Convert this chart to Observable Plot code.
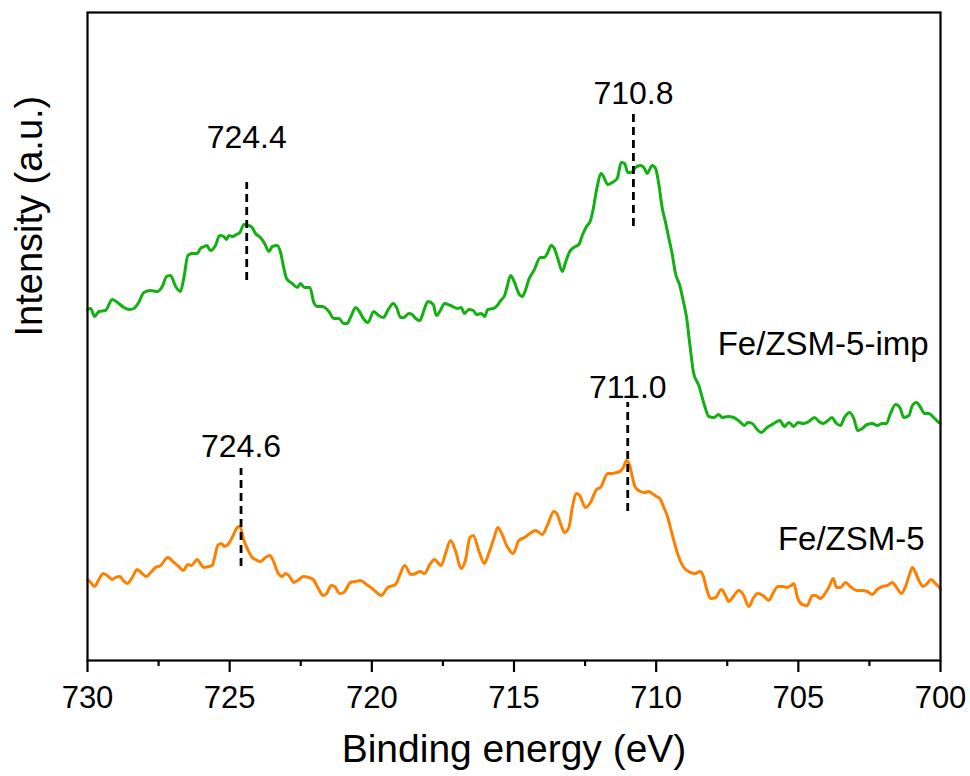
<!DOCTYPE html>
<html><head><meta charset="utf-8">
<script src="https://cdn.jsdelivr.net/npm/d3@7"></script>
<script src="https://cdn.jsdelivr.net/npm/@observablehq/plot@0.6"></script>
<style>html,body{margin:0;padding:0;background:#fff;} svg{display:block}</style>
</head><body><div id="chart"></div>
<script>
// Fe/ZSM-5-imp (green) — binding energy (eV) and intensity (a.u.)
const greenE = [
730.00,729.89,729.75,729.60,729.37,729.13,728.90,728.72,728.51,728.37,
728.20,728.02,727.78,727.55,727.37,727.22,727.08,726.90,726.73,726.61,
726.47,726.32,726.14,726.03,725.89,725.81,725.67,725.50,725.35,725.21,
725.11,725.03,724.91,724.76,724.64,724.50,724.33,724.21,724.09,723.92,
723.77,723.62,723.50,723.33,723.21,723.10,723.00,722.80,722.62,722.51,
722.37,722.18,722.04,721.92,721.75,721.51,721.34,721.16,720.99,720.87,
720.75,720.57,720.46,720.30,720.14,719.93,719.76,719.60,719.40,719.25,
719.13,718.99,718.88,718.70,718.58,718.46,718.31,718.17,718.03,717.84,
717.73,717.59,717.44,717.23,716.98,716.86,716.74,716.59,716.43,716.32,
716.15,716.04,715.92,715.73,715.59,715.47,715.33,715.24,715.12,714.98,
714.83,714.71,714.60,714.48,714.30,714.07,713.93,713.83,713.69,713.58,
713.46,713.30,713.19,713.04,712.90,712.72,712.60,712.45,712.31,712.21,
712.10,711.93,711.84,711.70,711.55,711.37,711.23,711.11,711.00,710.88,
710.73,710.55,710.41,710.32,710.14,710.02,709.91,709.79,709.67,709.56,
709.44,709.32,709.17,709.05,708.93,708.82,708.68,708.50,708.32,708.15,
707.97,707.80,707.68,707.48,707.27,707.03,706.89,706.78,706.62,706.45,
706.31,706.10,705.86,705.65,705.49,705.33,705.16,705.02,704.81,704.63,
704.43,704.28,704.13,703.96,703.81,703.69,703.52,703.38,703.19,703.05,
702.91,702.75,702.58,702.40,702.23,702.05,701.90,701.76,701.58,701.43,
701.29,701.11,700.99,700.84,700.70,700.56,700.41,700.24,700.06,700.00];
const greenI = [
351,352,344,349,350,361,357,353,351,352,
358,368,370,369,374,384,385,374,369,383,
405,407,407,412,414,415,410,415,425,424,
421,425,424,426,428,436,435,433,427,423,
417,409,414,415,408,393,382,377,373,377,
373,373,358,354,354,349,342,342,337,337,
343,353,350,342,338,349,345,343,352,357,
353,343,343,347,346,342,340,350,359,356,
345,350,357,355,352,353,347,351,350,346,
347,344,351,352,355,360,365,374,385,378,
367,364,370,381,390,403,403,407,415,412,
402,389,398,409,413,416,425,434,440,452,
470,487,483,476,478,482,498,497,488,488,
493,495,492,487,495,492,477,453,438,423,
407,387,375,360,343,317,287,275,257,244,
243,246,243,244,243,238,235,238,237,231,
228,233,237,240,234,238,234,238,237,239,
243,239,237,240,243,238,235,243,248,242,
230,232,236,237,235,237,237,247,256,253,
243,245,255,258,253,247,247,243,238,237];

// Fe/ZSM-5 (orange)
const orangeE = [
730.00,729.89,729.75,729.60,729.45,729.31,729.13,729.02,728.86,728.74,
728.60,728.43,728.25,728.08,727.92,727.78,727.61,727.43,727.18,726.96,
726.79,726.63,726.47,726.35,726.14,726.03,725.91,725.73,725.61,725.53,
725.42,725.30,725.18,725.03,724.88,724.73,724.64,724.50,724.38,724.21,
724.09,723.92,723.74,723.59,723.47,723.31,723.15,723.04,722.92,722.74,
722.57,722.41,722.22,722.06,721.90,721.71,721.59,721.43,721.31,721.13,
720.99,720.75,720.57,720.40,720.19,719.99,719.87,719.67,719.44,719.17,
719.02,718.85,718.62,718.46,718.31,718.15,717.96,717.80,717.56,717.41,
717.23,717.06,716.86,716.71,716.55,716.43,716.24,716.04,715.89,715.71,
715.57,715.45,715.24,715.03,714.83,714.63,714.44,714.24,714.01,713.83,
713.60,713.48,713.34,713.22,713.07,712.95,712.80,712.69,712.49,712.31,
712.10,711.96,711.70,711.58,711.39,711.23,711.14,711.04,710.93,710.84,
710.73,710.55,710.41,710.26,710.14,709.99,709.87,709.73,709.59,709.50,
709.38,709.20,709.03,708.79,708.62,708.46,708.35,708.23,708.09,707.91,
707.71,707.56,707.45,707.29,707.09,706.94,706.74,706.59,706.43,706.24,
706.04,705.88,705.72,705.53,705.42,705.25,705.16,705.02,704.86,704.69,
704.51,704.40,704.22,704.04,703.93,703.77,703.66,703.52,703.34,703.17,
702.95,702.75,702.58,702.40,702.23,702.05,701.87,701.70,701.52,701.38,
701.23,701.08,700.99,700.88,700.76,700.61,700.47,700.33,700.18,700.02,700.00];
const orangeI = [
81,78,74,81,87,85,81,83,84,80,
77,83,91,87,84,88,93,95,103,98,
94,90,96,95,101,97,93,94,95,103,
115,117,114,117,125,133,134,120,112,103,
101,99,103,105,100,88,84,87,85,78,
81,84,83,81,73,65,67,75,74,67,
68,78,79,80,76,72,69,65,73,76,
85,95,86,87,89,87,96,101,95,107,
120,110,92,100,123,125,110,97,107,122,
133,128,114,107,120,123,127,130,126,135,
149,146,135,128,133,153,167,165,153,158,
171,173,187,187,188,190,194,200,195,184,
173,169,168,169,167,164,162,153,143,133,
120,103,93,88,87,89,85,72,62,63,
71,65,59,64,70,66,54,62,67,65,
60,68,74,74,73,75,77,62,56,55,
65,65,62,68,73,82,73,73,78,74,
70,70,69,66,71,74,75,78,72,67,
74,87,93,88,80,74,77,81,77,72,71];

// Peak annotations
const peakE = [724.4, 710.8, 724.6, 711.0];
const peakLabels = ["724.4", "710.8", "724.6", "711.0"];
const peakLabelI = [523, 567, 214, 273];
const peakLineTop = [478, 548, 192, 258];
const peakLineBottom = [380, 434, 94, 149];

// Series labels
const seriesNames = ["Fe/ZSM-5-imp", "Fe/ZSM-5"];
const seriesLabelE = [700.42, 700.56];
const seriesLabelI = [316, 121];

// Axis
const majorTicks = [730, 725, 720, 715, 710, 705, 700];
const minorTicks = [727.5, 722.5, 717.5, 712.5, 707.5, 702.5];
const xTitle = "Binding energy (eV)";
const yTitle = "Intensity (a.u.)";

const zip = (E, I) => E.slice(0, Math.min(E.length, I.length)).map((e, i) => ({E: e, I: I[i]}));
const green = zip(greenE, greenI);
const orange = zip(orangeE, orangeI);
const peaks = peakE.map((e, i) => ({E: e, label: peakLabels[i], li: peakLabelI[i], top: peakLineTop[i], bottom: peakLineBottom[i]}));
const seriesLab = seriesNames.map((n, i) => ({name: n, E: seriesLabelE[i], I: seriesLabelI[i]}));

const FONT = "'Liberation Sans', Arial, Helvetica, sans-serif";

const chart = Plot.plot({
  width: 970,
  height: 776,
  marginLeft: 87,
  marginRight: 30,
  marginTop: 12,
  marginBottom: 116,
  style: {fontFamily: FONT, fontSize: "31px", background: "white", color: "black"},
  x: {domain: [730, 700]},
  y: {domain: [0, 648], axis: null},
  marks: [
    Plot.line(green, {x: "E", y: "I", stroke: "#12b012", strokeWidth: 3, strokeLinejoin: "round", curve: "monotone-x"}),
    Plot.line(orange, {x: "E", y: "I", stroke: "#ff8000", strokeWidth: 3, strokeLinejoin: "round", curve: "monotone-x"}),
    Plot.ruleX(peaks, {x: "E", y1: "bottom", y2: "top", stroke: "black", strokeWidth: 2.8, strokeDasharray: "8,5"}),
    Plot.text(peaks, {x: "E", y: "li", text: "label", fontSize: 32, fill: "black", lineAnchor: "middle"}),
    Plot.text(seriesLab, {x: "E", y: "I", text: "name", fontSize: 33, fill: "black", textAnchor: "end", lineAnchor: "middle"}),
    Plot.frame({stroke: "black", strokeWidth: 2.2}),
    Plot.axisX({ticks: majorTicks, tickSize: 12, tickPadding: 13, fontSize: 31, strokeWidth: 2.2, label: null, tickFormat: d => String(d)}),
    Plot.axisX({ticks: minorTicks, tickSize: 6, strokeWidth: 2.2, label: null, tickFormat: () => ""}),
    Plot.text([xTitle], {frameAnchor: "bottom", dy: 89, text: d => d, fontSize: 39, fill: "black", lineAnchor: "middle"}),
    Plot.text([yTitle], {frameAnchor: "left", dx: -58, rotate: -90, text: d => d, fontSize: 38, fill: "black", lineAnchor: "middle"})
  ]
});
document.getElementById("chart").appendChild(chart);
</script>
</body></html>
